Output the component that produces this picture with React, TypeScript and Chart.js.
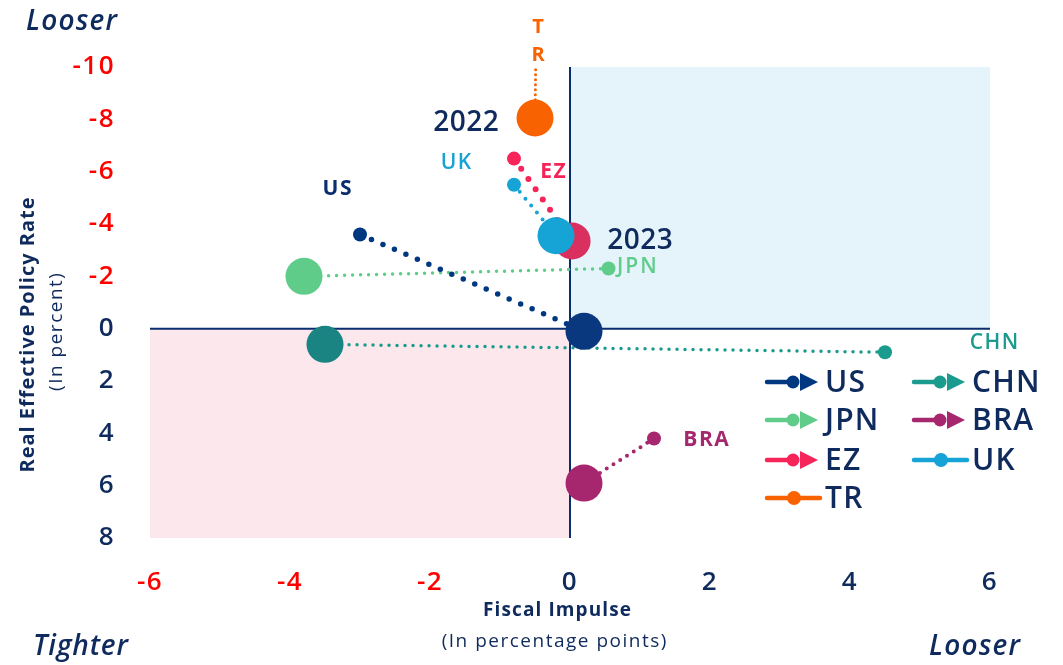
import React, { useEffect, useRef } from "react";
import { Chart, registerables } from "chart.js";

Chart.register(...registerables);

// ---- data ----
const countries = ["US", "JPN", "EZ", "TR", "CHN", "BRA", "UK"];
// small markers
const fromImpulse = [-3.0, 0.55, -0.8, -0.48, 4.5, 1.2, -0.8];
const fromRate = [-3.6, -2.3, -6.5, -12.0, 0.9, 4.2, -5.5];
// large markers
const toImpulse = [0.2, -3.8, 0.03, -0.5, -3.5, 0.2, -0.2];
const toRate = [0.1, -2.0, -3.35, -8.05, 0.6, 5.9, -3.55];

const xTicks = [-6, -4, -2, 0, 2, 4, 6];
const yTicks = [-10, -8, -6, -4, -2, 0, 2, 4, 6, 8];

// ---- styles ----
const FONT = '"Open Sans", "Noto Sans", sans-serif';
const NAVY = "#0F2A5C";
const RED = "#FF0000";
const smallColor = ["#003781", "#5FCC8A", "#F62459", "#F86200", "#1B9A8E", "#A6276E", "#16A3D6"];
const bigColor = ["#0A387E", "#5FCC8A", "#D9305F", "#F86200", "#1A8482", "#A6276E", "#16A3D6"];
const lineWidth = [5.5, 3.5, 6, 3, 3.5, 4, 4];
const dotGap = [12.5, 8, 12.5, 5, 8, 8, 9];
const drawOrder = [0, 3, 2, 6, 4, 5, 1];
const legendArrow = [true, true, true, false, true, true, false];

const spacingPlugin = {
  id: "spacing",
  beforeDraw(chart: any) {
    (chart.ctx as any).letterSpacing = "1.5px";
  },
};

const backdropPlugin = {
  id: "backdrop",
  beforeDatasetsDraw(chart: any) {
    const { ctx, scales } = chart;
    const x = scales.x, y = scales.y;
    const x0 = x.getPixelForValue(0), y0 = y.getPixelForValue(0);
    const l = x.getPixelForValue(-6), r = x.getPixelForValue(6);
    const t = y.getPixelForValue(-10), b = y.getPixelForValue(8);
    ctx.save();
    ctx.fillStyle = "#E5F3FA";
    ctx.fillRect(x0, t, r - x0, y0 - t);
    ctx.fillStyle = "#FCE8EC";
    ctx.fillRect(l, y0, x0 - l, b - y0);
    ctx.strokeStyle = "#0A2D6E";
    ctx.lineWidth = 2;
    ctx.beginPath();
    ctx.moveTo(l, y0);
    ctx.lineTo(r, y0);
    ctx.moveTo(x0, t);
    ctx.lineTo(x0, b);
    ctx.stroke();
    ctx.restore();
  },
  afterDraw(chart: any) {
    const { ctx } = chart;
    ctx.save();
    const text = (
      s: string, px: number, py: number, font: string, color: string,
      align: CanvasTextAlign = "center", ls = 0
    ) => {
      ctx.font = font;
      ctx.fillStyle = color;
      ctx.textAlign = align;
      ctx.textBaseline = "middle";
      (ctx as any).letterSpacing = `${ls}px`;
      const shift = align === "center" ? ls / 2 : 0;
      ctx.fillText(s, px + shift, py);
    };
    // corner labels
    text("Looser", 26, 22, `italic 600 28px ${FONT}`, NAVY, "left", 1.2);
    text("Tighter", 33, 647, `italic 600 28px ${FONT}`, NAVY, "left", 0.8);
    text("Looser", 929, 647, `italic 600 28px ${FONT}`, NAVY, "left", 1.2);
    // axis titles
    text("Fiscal Impulse", 557, 611, `bold 19px ${FONT}`, NAVY, "center", 1.1);
    text("(In percentage points)", 554, 642, `19px ${FONT}`, NAVY, "center", 1.5);
    ctx.save();
    ctx.translate(28, 335);
    ctx.rotate(-Math.PI / 2);
    text("Real Effective Policy Rate", 0, 0, `bold 20px ${FONT}`, NAVY, "center", 1);
    ctx.restore();
    ctx.save();
    ctx.translate(57, 332);
    ctx.rotate(-Math.PI / 2);
    text("(In percent)", 0, 0, `19px ${FONT}`, NAVY, "center", 1.5);
    ctx.restore();
    // annotations
    text("2022", 466, 123, `600 28px ${FONT}`, NAVY, "center", 0.5);
    text("2023", 640, 241, `600 28px ${FONT}`, NAVY, "center", 0.5);
    text("US", 337, 189, `bold 21px ${FONT}`, "#0A2D6E", "center", 1.5);
    text("UK", 456, 163, `600 21px ${FONT}`, "#17A3D5", "center", 1.5);
    text("EZ", 553, 172, `bold 21px ${FONT}`, "#F62459", "center", 1.5);
    text("JPN", 617, 267, `600 21px ${FONT}`, "#5FCC8A", "left", 2);
    text("T", 538, 27, `bold 20px ${FONT}`, "#F86200");
    text("R", 538, 55, `bold 20px ${FONT}`, "#F86200");
    text("CHN", 994, 343, `600 21px ${FONT}`, "#1B9A8E", "center", 1.5);
    text("BRA", 706, 440, `bold 21px ${FONT}`, "#A6276E", "center", 1.5);
    // legend
    const cols = [767, 914];
    const rows = [382, 420, 460, 498];
    countries.forEach((c, i) => {
      const col = i < 4 ? 0 : 1;
      const row = i < 4 ? i : i - 4;
      const lx = cols[col], ly = rows[row];
      const color = smallColor[i];
      ctx.strokeStyle = color;
      ctx.fillStyle = color;
      ctx.lineWidth = 4.5;
      ctx.lineCap = "round";
      ctx.beginPath();
      if (legendArrow[i]) {
        ctx.moveTo(lx, ly);
        ctx.lineTo(lx + 26, ly);
        ctx.stroke();
        ctx.beginPath();
        ctx.arc(lx + 26, ly, 6.5, 0, Math.PI * 2);
        ctx.fill();
        ctx.beginPath();
        ctx.moveTo(lx + 33, ly - 9);
        ctx.lineTo(lx + 51, ly);
        ctx.lineTo(lx + 33, ly + 9);
        ctx.closePath();
        ctx.fill();
      } else {
        ctx.moveTo(lx, ly);
        ctx.lineTo(lx + 53, ly);
        ctx.stroke();
        ctx.beginPath();
        ctx.arc(lx + 27, ly, 7, 0, Math.PI * 2);
        ctx.fill();
      }
      text(c, lx + 58, ly + 1, `600 30px ${FONT}`, NAVY, "left", 1.2);
    });
    ctx.restore();
  },
};

export default function App() {
  const ref = useRef<HTMLCanvasElement | null>(null);
  useEffect(() => {
    if (!ref.current) return;
    const datasets = countries.map((c, i) => ({
      label: c,
      data: [
        { x: fromImpulse[i], y: fromRate[i] },
        { x: toImpulse[i], y: toRate[i] },
      ],
      showLine: true,
      borderColor: smallColor[i],
      borderWidth: lineWidth[i],
      borderDash: [0, dotGap[i]],
      borderCapStyle: "round" as const,
      pointRadius: [7, 18.5],
      pointBackgroundColor: [smallColor[i], bigColor[i]],
      pointBorderWidth: 0,
      pointHoverRadius: [7, 18.5],
      order: drawOrder[i],
    }));
    const tickColor = (ctx: any) => (ctx.tick && ctx.tick.value < 0 ? RED : NAVY);
    const chart = new Chart(ref.current, {
      type: "scatter",
      data: { datasets },
      options: {
        animation: false,
        responsive: false,
        events: [],
        layout: { padding: { top: 67, right: 73, left: 0, bottom: 0 } },
        plugins: { legend: { display: false }, tooltip: { enabled: false } },
        scales: {
          x: {
            type: "linear",
            min: -6,
            max: 6,
            grid: { display: false, drawTicks: false },
            border: { display: false },
            afterBuildTicks: (s: any) => { s.ticks = xTicks.map((v) => ({ value: v })); },
            afterFit: (s: any) => { s.height = 665 - 538; },
            ticks: { color: tickColor, font: { family: FONT, size: 26, weight: 600 }, padding: 29 },
          },
          y: {
            type: "linear",
            min: -10,
            max: 8,
            reverse: true,
            grid: { display: false, drawTicks: false },
            border: { display: false },
            afterBuildTicks: (s: any) => { s.ticks = yTicks.map((v) => ({ value: v })); },
            afterFit: (s: any) => { s.width = 150; },
            ticks: { color: tickColor, font: { family: FONT, size: 26, weight: 600 }, padding: 35 },
          },
        },
      } as any,
      plugins: [spacingPlugin, backdropPlugin],
    });
    return () => chart.destroy();
  }, []);
  return (
    <div style={{ position: "absolute", left: 0, top: 0, width: 1063, height: 665, background: "#fff" }}>
      <canvas ref={ref} width={1063} height={665} style={{ display: "block" }} />
    </div>
  );
}
